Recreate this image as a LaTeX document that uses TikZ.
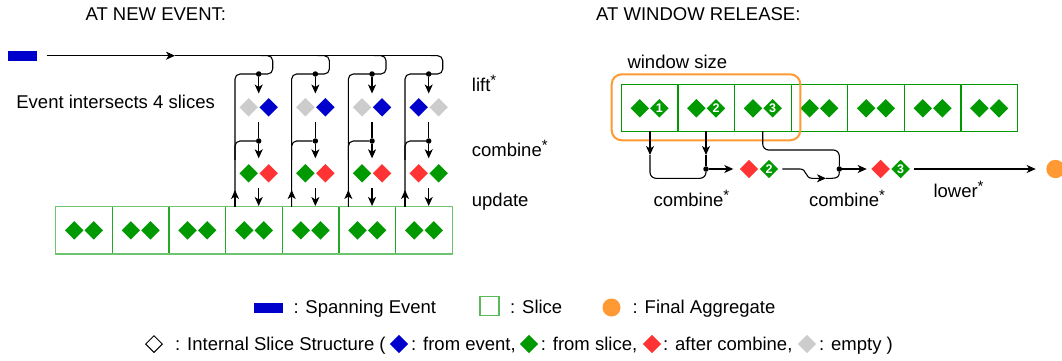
\documentclass[tikz,border=0pt]{standalone}
\usepackage{fontspec}
\setmainfont{Liberation Sans}
\usetikzlibrary{shapes.geometric,arrows.meta}
\definecolor{dgreen}{RGB}{0,153,0}
\definecolor{lgreen}{RGB}{110,195,110}
\definecolor{dblue}{RGB}{0,0,204}
\definecolor{dred}{RGB}{255,51,51}
\definecolor{lgray}{RGB}{204,204,204}
\definecolor{orng}{RGB}{255,153,51}
\newcommand{\upstar}{\raisebox{6pt}{\fontsize{15}{15}\selectfont *}}
\tikzset{
  lbl/.style={anchor=base west, inner sep=0pt},
  dia/.style={diamond, inner sep=0pt, minimum width=18.6pt, minimum height=18.6pt, draw=none},
  ndia/.style={dia, fill=dgreen, text=white, font=\fontsize{12.5}{12}\selectfont\bfseries},
  ln/.style={line width=1.1pt, black},
  arr/.style={ln, -{Stealth[length=9pt,width=8pt,inset=2.5pt]}},
  dotn/.style={circle, fill=black, inner sep=0pt, minimum size=5.5pt},
  slicebox/.style={draw=dgreen, line width=1.2pt, minimum width=56.6pt, minimum height=47pt, inner sep=0pt},
}
\begin{document}
\begin{tikzpicture}[x=1pt,y=-1pt,font=\fontsize{18.5}{22}\selectfont]
\useasboundingbox (0,0) rectangle (1062,361);

% titles
\node[lbl] (t1) at (85.4,20.7) {AT NEW EVENT:};
\node[lbl] (t2) at (596,20.7) {AT WINDOW RELEASE:};

% ---------------- left part ----------------
\node[fill=dblue, minimum width=28.5pt, minimum height=9.5pt, inner sep=0pt] (ev) at (22.3,55.9) {};
\coordinate (evs) at (46.7,55.7);
\coordinate (evm) at (175,55.7);
\coordinate (eve) at (430.7,55.7);
\draw[arr] (evs) -- (evm);
\draw[ln] (evm) -- (eve);
\node[lbl] (inter) at (16.2,108.3) {Event intersects 4 slices};

\foreach \i in {0,...,6}{
  \node[slicebox, draw=dgreen!85!white] (L\i) at (84+56.67*\i,230.35) {};
  \node[dia, fill=dgreen] (La\i) at (84+56.67*\i-9.8,230.35) {};
  \node[dia, fill=dgreen] (Lb\i) at (84+56.67*\i+9.8,230.35) {};
}
\draw[lgreen, line width=1.2pt] (55.7,206.7) rectangle (452.3,254);

\foreach \i in {0,...,3}{
  \pgfmathsetmacro\d{258.7+56.67*\i}
  \pgfmathsetmacro\v{\d-23.7}
  \pgfmathsetmacro\r{\d+14}
  \coordinate (bs\i) at (\r-12,55.7);
  \coordinate (bv\i) at (\v,206.7);
  \draw[ln, rounded corners=5pt] (bs\i) -- (\r,55.7) -- (\r,74) -- (\v,74) -- (bv\i);
  \coordinate (bu\i) at (\v,190);
  \draw[arr] (bv\i) -- (bu\i);
  \node[dotn] (da\i) at (\d,74) {};
  \coordinate (lt\i) at (\d,93.5);
  \draw[arr] (da\i) -- (lt\i);
  \ifnum\i<3
    \node[dia, fill=lgray] (g\i) at (\d-10,107.3) {};
    \node[dia, fill=dblue] (b\i) at (\d+10,107.3) {};
  \else
    \node[dia, fill=dblue] (b\i) at (\d-10,107.3) {};
    \node[dia, fill=lgray] (g\i) at (\d+10,107.3) {};
  \fi
  \coordinate (lb\i) at (\d,122.3);
  \node[dotn] (db\i) at (\d,141) {};
  \draw[ln] (lb\i) -- (db\i);
  \coordinate (ct\i) at (\d,158.3);
  \draw[arr] (db\i) -- (ct\i);
  \coordinate (cv\i) at (\v,160);
  \draw[ln, rounded corners=5pt] (cv\i) -- (\v,141) -- (db\i);
  \ifnum\i<3
    \node[dia, fill=dgreen] (cg\i) at (\d-10,173.3) {};
    \node[dia, fill=dred] (cr\i) at (\d+10,173.3) {};
  \else
    \node[dia, fill=dred] (cr\i) at (\d-10,173.3) {};
    \node[dia, fill=dgreen] (cg\i) at (\d+10,173.3) {};
  \fi
  \coordinate (cb\i) at (\d,188.3);
  \coordinate (ub\i) at (\d,206);
  \draw[arr] (cb\i) -- (ub\i);
}

\node[lbl] (lift) at (471.7,91.8) {lift\upstar};
\node[lbl] (comb) at (471.7,156.8) {combine\upstar};
\node[lbl] (upd) at (471.7,206) {update};

% ---------------- right part ----------------
\node[lbl] (ws) at (627.3,68) {window size};
\foreach \i in {0,...,6}{
  \node[slicebox] (R\i) at (649.6+56.6*\i,107.65) {};
  \node[dia, fill=dgreen] (Ra\i) at (649.6+56.6*\i-9.8,108.3) {};
}
\foreach \i/\n in {0/1,1/2,2/3}{
  \node[ndia] (Rb\i) at (649.6+56.6*\i+9.8,108.3) {\n};
}
\foreach \i in {3,...,6}{
  \node[dia, fill=dgreen] (Rb\i) at (649.6+56.6*\i+9.8,108.3) {};
}
\node[draw=orng, line width=2pt, rounded corners=10pt, minimum width=188.6pt, minimum height=66pt, inner sep=0pt] (win) at (706,107.3) {};

% combine step 1
\coordinate (s1) at (650,131);
\coordinate (s1a) at (650,155);
\coordinate (s2) at (706,131);
\coordinate (s2a) at (706,155);
\node[dotn] (k1) at (706,169) {};
\draw[arr] (s1) -- (s1a);
\draw[ln, rounded corners=6pt] (s1a) -- (650,178.3) -- (706,178.3) -- (k1);
\draw[arr] (s2) -- (s2a);
\draw[ln] (s2a) -- (k1);
\coordinate (k1a) at (733.3,169);
\draw[arr] (k1) -- (k1a);
\node[dia, fill=dred] (r1) at (749,169) {};
\node[ndia] (n2) at (769,169) {2};

% combine step 2
\coordinate (s3) at (762.7,131);
\node[dotn] (k2) at (839.3,169) {};
\draw[ln, rounded corners=6pt] (s3) -- (762.7,150) -- (839.3,150) -- (k2);
\coordinate (w1) at (782.3,169);
\coordinate (w2) at (826,178.3);
\draw[arr] (w1) -- (800,169) .. controls (807,169) and (805,178.3) .. (812,178.3) -- (w2);
\draw[ln] (w2) -- (832,178.3) .. controls (838,178.3) and (839.3,176) .. (k2);
\coordinate (k2a) at (866.7,169);
\draw[arr] (k2) -- (k2a);
\node[dia, fill=dred] (r2) at (880.7,169) {};
\node[ndia] (n3) at (900.7,169) {3};

% lower
\coordinate (lw1) at (914,169);
\node[circle, fill=orng, minimum size=18.4pt, inner sep=0pt] (fin) at (1055.5,169) {};
\coordinate (lw2) at (1035.7,169);
\draw[arr] (lw1) -- (lw2);

\node[lbl] (cm1) at (653.3,206) {combine\upstar};
\node[lbl] (cm2) at (809,206) {combine\upstar};
\node[lbl] (low) at (933.3,197.3) {lower\upstar};

% ---------------- legend ----------------
\node[fill=dblue, minimum width=28.7pt, minimum height=9.4pt, inner sep=0pt] (lg1) at (268.3,308) {};
\node[lbl] (lg1t) at (293.3,313.3) {: Spanning Event};
\node[draw=lgreen!80!dgreen, line width=1.2pt, minimum width=19pt, minimum height=19pt, inner sep=0pt] (lg2) at (489.5,305.6) {};
\node[lbl] (lg2t) at (510,313.3) {: Slice};
\node[circle, fill=orng, minimum size=18pt, inner sep=0pt] (lg3) at (611.5,307.5) {};
\node[lbl] (lg3t) at (632.5,313.3) {: Final Aggregate};

\node[dia, draw=black, line width=1pt, fill=white, minimum width=17pt, minimum height=17pt] (lg4) at (154,344) {};
\node[lbl] (lg4t) at (175,350.7) {: Internal Slice Structure (};
\node[dia, fill=dblue] (lg5) at (399,344) {};
\node[lbl] (lg5t) at (411,350.7) {: from event,};
\node[dia, fill=dgreen] (lg6) at (529,344) {};
\node[lbl] (lg6t) at (540.7,350.7) {: from slice,};
\node[dia, fill=dred] (lg7) at (652,344) {};
\node[lbl] (lg7t) at (663,350.7) {: after combine,};
\node[dia, fill=lgray] (lg8) at (807,344) {};
\node[lbl] (lg8t) at (819,350.7) {: empty )};
\end{tikzpicture}
\end{document}
